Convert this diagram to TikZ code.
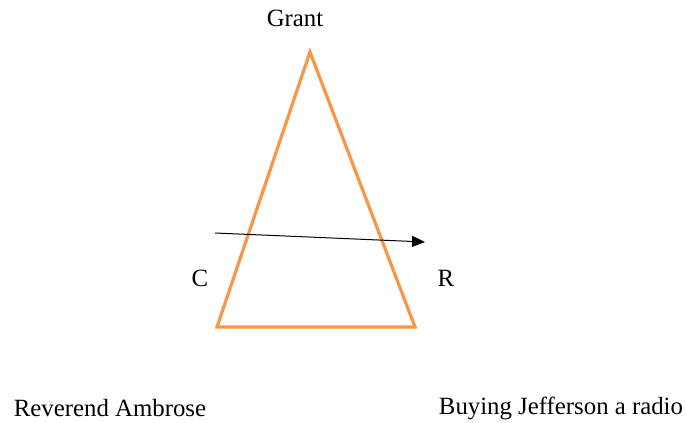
\documentclass[tikz,border=0pt]{standalone}
\usepackage{fontspec}
\setmainfont{Liberation Serif}
\usetikzlibrary{arrows.meta}
\definecolor{tri}{RGB}{247,150,70}
\begin{document}
\begin{tikzpicture}[x=1pt,y=-1pt,
  lbl/.style={inner sep=0pt,font=\fontsize{24.8}{29}\selectfont},
  side/.style={draw=tri,line width=3.2pt,line join=miter},
  arr/.style={draw=black,line width=1pt,-{Triangle[length=13pt,width=11pt]}}]
\useasboundingbox (0,0) rectangle (686,423);
\coordinate (top) at (310,52);
\coordinate (bl) at (217,327);
\coordinate (br) at (415,327);
\draw[side] (top) -- (bl) -- (br) -- cycle;
\coordinate (a1) at (215,233);
\coordinate (a2) at (425,242);
\draw[arr] (a1) -- (a2);
\node[lbl] (grant) at (295,18) {Grant};
\node[lbl] (c) at (200,278) {C};
\node[lbl] (r) at (446,278) {R};
\node[lbl] (ra) at (110,408) {Reverend Ambrose};
\node[lbl] (bj) at (561,408) {Buying Jefferson a radio};
\end{tikzpicture}
\end{document}
